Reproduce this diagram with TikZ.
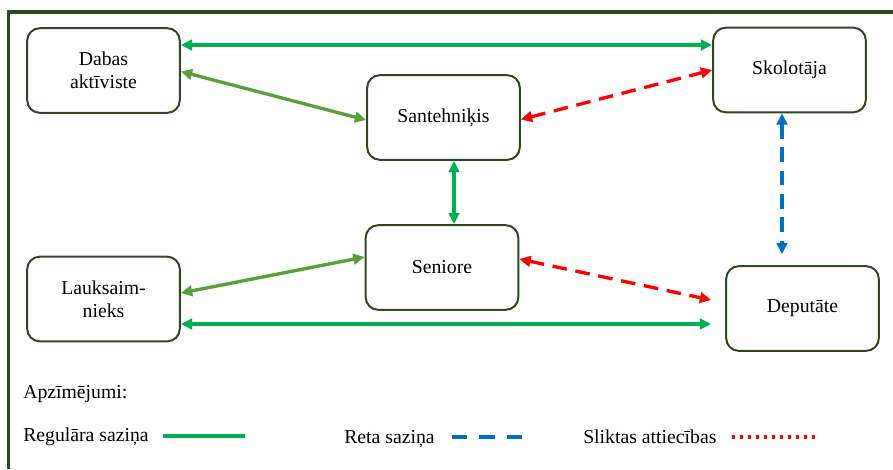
\documentclass[tikz,border=0pt]{standalone}
\usepackage{fontspec}
\setmainfont{Liberation Serif}
\usetikzlibrary{arrows.meta,calc}
\definecolor{frameg}{HTML}{2D4A1F}
\definecolor{regg}{HTML}{00B050}
\definecolor{oliveg}{HTML}{58A03A}
\definecolor{badred}{HTML}{FF0000}
\definecolor{rareblue}{HTML}{0070C0}
\begin{document}
\begin{tikzpicture}[x=0.75pt,y=-0.75pt,
  actor/.style={draw=frameg, line width=1.5pt, rounded corners=9.5pt,
    minimum width=114.5pt, minimum height=63.5pt, inner sep=0pt,
    align=center, fill=white, font=\fontsize{14.8}{17.3}\selectfont},
  lbl/.style={inner sep=0pt, font=\fontsize{14.8}{17.3}\selectfont},
  both/.style={{Triangle[length=8.5pt,width=8pt]}-{Triangle[length=8.5pt,width=8pt]}},
  regular/.style={both, draw=regg, line width=2.5pt},
  regular2/.style={both, draw=oliveg, line width=2.5pt},
  badlink/.style={both, draw=badred, line width=2.5pt, dash pattern=on 11pt off 6.5pt},
  rarelink/.style={both, draw=rareblue, line width=2.5pt, dash pattern=on 11pt off 6.5pt}]

\useasboundingbox (0,0) rectangle (893,469);

% outer frame (only its top and left sides fall on the page)
\draw[frameg, line width=2.7pt, line join=miter] (893,11.7) -- (8.6,11.7) -- (8.6,469);

% actors
\node[actor] (dabas) at (103.5,70.5) {Dabas\\aktīviste};
\node[actor] (sant)  at (443.5,117.5) {Santehniķis};
\node[actor] (skol)  at (789.5,70) {Skolotāja};
\node[actor] (sen)   at (442,267.5) {Seniore};
\node[actor] (lauk)  at (103.5,299) {Lauksaim-\\nieks};
\node[actor] (dep)   at (802.5,308.5) {Deputāte};

% relations
\draw[regular]  ($(dabas.east)+(0,-25.5)$) -- ($(skol.west)+(0,-25)$);
\draw[regular2] ($(dabas.east)+(0,1)$) -- ($(sant.west)+(0,2.5)$);
\draw[badlink]  ($(sant.east)+(0,2)$) -- (skol.west);
\draw[regular]  ($(sant.south)+(10.5,0)$) -- ($(sen.north)+(12,0)$);
\draw[regular2] ($(sen.west)+(0,-10.5)$) -- ($(lauk.east)+(0,-6)$);
\draw[badlink]  ($(sen.east)+(0,-8.5)$) -- ($(dep.west)+(-14,-8.5)$);
\draw[regular]  ($(lauk.east)+(0,25)$) -- ($(dep.west)+(-14,15.5)$);
\draw[rarelink] ($(skol.south)+(-7.5,0)$) -- ($(dep.north)+(-20.5,-11)$);

% legend
\node[lbl, anchor=base west] (legtitle) at (23,398) {Apzīmējumi:};
\node[lbl, anchor=base west] (legreg) at (23,441) {Regulāra saziņa};
\node[lbl, anchor=base west] (legrare) at (344,443) {Reta saziņa};
\node[lbl, anchor=base west] (legbad) at (583,443) {Sliktas attiecības};
\coordinate (regA) at (163,436);
\coordinate (regB) at (245,436);
\coordinate (rareA) at (452,437);
\coordinate (rareB) at (522,437);
\coordinate (badA) at (732,437);
\coordinate (badB) at (816,437);
\draw[regg, line width=3pt] (regA) -- (regB);
\draw[rareblue, line width=3pt, dash pattern=on 11.5pt off 9pt] (rareA) -- (rareB);
\draw[badred, line width=3pt, dash pattern=on 2.6pt off 3.4pt] (badA) -- (badB);
\end{tikzpicture}
\end{document}
